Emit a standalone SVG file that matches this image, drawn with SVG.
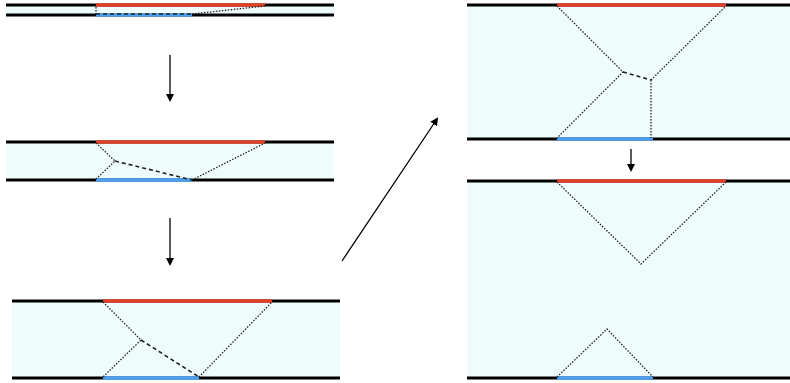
<svg xmlns="http://www.w3.org/2000/svg" width="790" height="383" viewBox="0 0 790 383">
<style>
.fill{fill:#effcfc;stroke:none}
.wall{stroke:#000;stroke-width:3;fill:none}
.red{stroke:#e0402a;stroke-width:3.5;fill:none}
.blue{stroke:#4a9ff0;stroke-width:3.5;fill:none}
.dot{stroke:#222;stroke-width:1.3;stroke-dasharray:1.5 1.5;fill:none}
.dash{stroke:#222;stroke-width:1.6;stroke-dasharray:4 3;fill:none}
.arr{stroke:#000;stroke-width:1.3;fill:none;marker-end:url(#ah)}
</style>
<defs>
<marker id="ah" markerWidth="8" markerHeight="8" refX="6" refY="4" orient="auto" markerUnits="userSpaceOnUse">
<path d="M0,0 L8,4 L0,8 Z" fill="#000"/>
</marker>
</defs>
<g id="panel1">
<rect class="fill" x="6" y="5" width="328" height="10"/>
<line class="wall" x1="6" y1="5" x2="334" y2="5"/>
<line class="wall" x1="6" y1="15" x2="334" y2="15"/>
<line class="red" x1="96" y1="5" x2="265" y2="5"/>
<line class="blue" x1="96" y1="15" x2="192" y2="15"/>
<line class="dot" x1="96" y1="7" x2="96" y2="14"/>
<line class="dash" x1="96" y1="14" x2="192" y2="14"/>
<line class="dot" x1="192" y1="14" x2="265" y2="6"/>
</g>
<g id="panel2">
<rect class="fill" x="6" y="142" width="328" height="38"/>
<line class="wall" x1="6" y1="142" x2="334" y2="142"/>
<line class="wall" x1="6" y1="180" x2="334" y2="180"/>
<line class="red" x1="96" y1="142" x2="265" y2="142"/>
<line class="blue" x1="96" y1="180" x2="192" y2="180"/>
<polyline class="dot" points="96,143 115,161 96,179"/>
<line class="dash" x1="115" y1="161" x2="192" y2="180"/>
<line class="dot" x1="192" y1="180" x2="265" y2="143"/>
</g>
<g id="panel3">
<rect class="fill" x="12" y="301" width="328" height="77"/>
<line class="wall" x1="12" y1="301" x2="340" y2="301"/>
<line class="wall" x1="12" y1="378" x2="340" y2="378"/>
<line class="red" x1="103" y1="301" x2="272" y2="301"/>
<line class="blue" x1="103" y1="378" x2="199" y2="378"/>
<polyline class="dot" points="103,302 141,340 103,377"/>
<line class="dash" x1="141" y1="340" x2="199" y2="377"/>
<line class="dot" x1="199" y1="377" x2="272" y2="302"/>
</g>
<g id="panel4">
<rect class="fill" x="467" y="5" width="323" height="134"/>
<line class="wall" x1="467" y1="5" x2="790" y2="5"/>
<line class="wall" x1="467" y1="139" x2="790" y2="139"/>
<line class="red" x1="557" y1="5" x2="726" y2="5"/>
<line class="blue" x1="557" y1="139" x2="653" y2="139"/>
<polyline class="dot" points="557,6 623,72 557,138"/>
<line class="dash" x1="623" y1="72" x2="651" y2="80"/>
<line class="dot" x1="651" y1="80" x2="726" y2="6"/>
<line class="dot" x1="651" y1="80" x2="651" y2="138"/>
</g>
<g id="panel5">
<rect class="fill" x="467" y="181" width="323" height="197"/>
<line class="wall" x1="467" y1="181" x2="790" y2="181"/>
<line class="wall" x1="467" y1="378" x2="790" y2="378"/>
<line class="red" x1="557" y1="181" x2="726" y2="181"/>
<line class="blue" x1="557" y1="378" x2="653" y2="378"/>
<polyline class="dot" points="557,182 641,264 726,182"/>
<polyline class="dot" points="557,377 607,329 653,377"/>
</g>
<g id="connectors">
<line class="arr" x1="170" y1="55" x2="170" y2="100"/>
<line class="arr" x1="170" y1="218" x2="170" y2="264"/>
<line class="arr" x1="631" y1="149" x2="631" y2="170"/>
<line class="arr" x1="342" y1="261" x2="437" y2="119"/>
</g>
</svg>
